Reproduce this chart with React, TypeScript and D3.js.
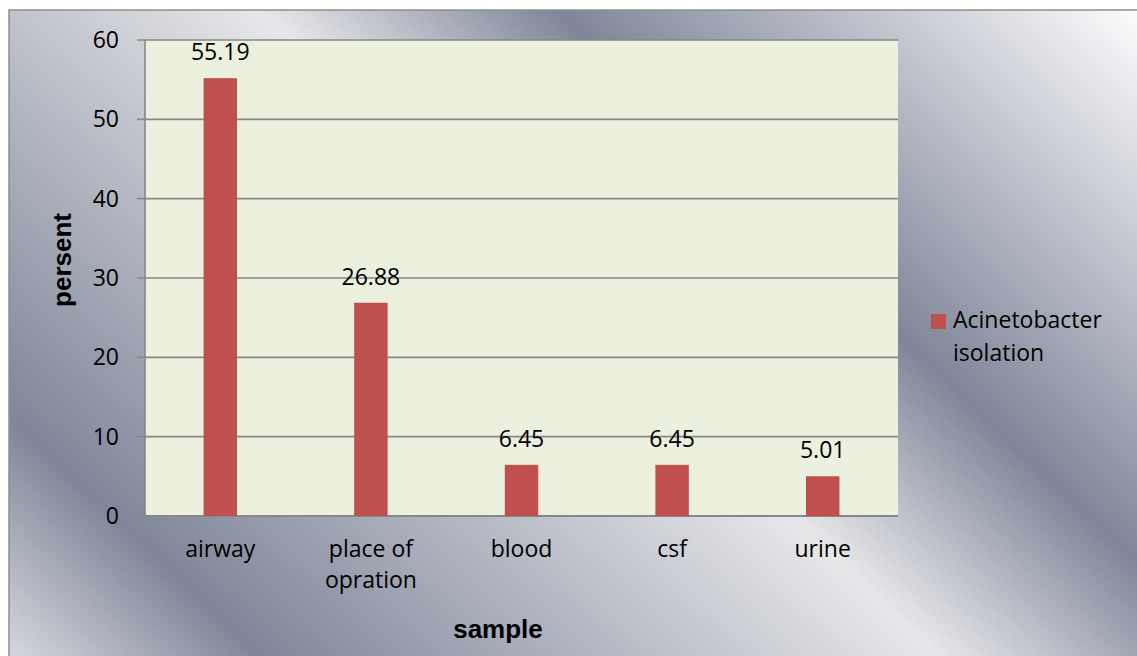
import React from "react";
import * as d3 from "d3";

// Sample types and Acinetobacter isolation share (%)
const categories: string[][] = [["airway"], ["place of", "opration"], ["blood"], ["csf"], ["urine"]];
const values: number[] = [55.19, 26.88, 6.45, 6.45, 5.01];
const yTicks: number[] = [0, 10, 20, 30, 40, 50, 60];
const seriesName: string[] = ["Acinetobacter", "isolation"];
const xTitle = "sample";
const yTitle = "persent";

const W = 1137;
const H = 656;
const plot = { left: 145, right: 898, top: 40, bottom: 516 };
const FONT = "'Open Sans', 'Noto Sans', sans-serif";
const BOLD = "'Liberation Sans', Arial, sans-serif";
const BAR = "#C0504D";
const GRID = "#878787";

export default function App() {
  const keys = categories.map((c) => c.join(" "));
  const x = d3
    .scaleBand<string>()
    .domain(keys)
    .range([plot.left, plot.right])
    .paddingInner(0.778)
    .paddingOuter(0.389);
  const y = d3.scaleLinear().domain([0, 60]).range([plot.bottom, plot.top]);

  return (
    <svg
      width={W}
      height={H}
      style={{ position: "absolute", left: 0, top: 0, display: "block" }}
    >
      <defs>
        <linearGradient
          id="chrome"
          gradientUnits="userSpaceOnUse"
          x1={131}
          y1={791}
          x2={1006}
          y2={-128}
        >
          <stop offset="0" stopColor="#dddee2" />
          <stop offset="0.147" stopColor="#7f8699" />
          <stop offset="0.516" stopColor="#e6e7e9" />
          <stop offset="0.677" stopColor="#7f8699" />
          <stop offset="1" stopColor="#ffffff" />
        </linearGradient>
      </defs>
      <rect x={0} y={0} width={W} height={H} fill="#ffffff" />
      {/* chart frame */}
      <rect
        x={9}
        y={10}
        width={W + 20}
        height={H + 20}
        fill="url(#chrome)"
        stroke="#8e8e8e"
        strokeWidth={1.5}
      />
      {/* plot area */}
      <rect
        x={plot.left}
        y={plot.top}
        width={plot.right - plot.left}
        height={plot.bottom - plot.top}
        fill="#EBF0DF"
      />
      {/* gridlines and y ticks */}
      {yTicks.map((t) => (
        <g key={t}>
          <line
            x1={plot.left - 8}
            x2={plot.right}
            y1={y(t)}
            y2={y(t)}
            stroke={GRID}
            strokeWidth={t === 0 ? 2 : 1.6}
          />
          <text
            x={119}
            y={y(t) + 8}
            textAnchor="end"
            fontFamily={FONT}
            fontSize={23}
            fill="#000"
          >
            {t}
          </text>
        </g>
      ))}
      <line x1={plot.left} x2={plot.left} y1={plot.top} y2={plot.bottom} stroke={GRID} strokeWidth={1.6} />
      {/* bars and value labels */}
      {values.map((v, i) => {
        const k = keys[i];
        const bx = x(k) as number;
        const cx = bx + x.bandwidth() / 2;
        return (
          <g key={k}>
            <rect
              x={bx}
              y={y(v)}
              width={x.bandwidth()}
              height={y(0) - y(v)}
              fill={BAR}
            />
            <text
              x={cx}
              y={y(v) - 18}
              textAnchor="middle"
              fontFamily={FONT}
              fontSize={23}
              fill="#000"
            >
              {v.toFixed(2)}
            </text>
          </g>
        );
      })}
      {/* category labels */}
      {categories.map((lines, i) => {
        const cx = (x(keys[i]) as number) + x.bandwidth() / 2;
        return (
          <text
            key={keys[i]}
            textAnchor="middle"
            fontFamily={FONT}
            fontSize={23}
            fill="#000"
          >
            {lines.map((ln, j) => (
              <tspan key={j} x={cx} y={557 + j * 31}>
                {ln}
              </tspan>
            ))}
          </text>
        );
      })}
      {/* axis titles */}
      <text
        x={498}
        y={638}
        textAnchor="middle"
        fontFamily={BOLD}
        fontWeight="bold"
        fontSize={26}
        fill="#000"
      >
        {xTitle}
      </text>
      <text
        transform={`translate(71, 260) rotate(-90)`}
        textAnchor="middle"
        fontFamily={BOLD}
        fontWeight="bold"
        fontSize={26}
        fill="#000"
      >
        {yTitle}
      </text>
      {/* legend */}
      <rect x={931} y={314} width={15} height={15} fill={BAR} />
      <text fontFamily={FONT} fontSize={23} fill="#000">
        {seriesName.map((ln, j) => (
          <tspan key={j} x={953} y={328 + j * 33}>
            {ln}
          </tspan>
        ))}
      </text>
    </svg>
  );
}
